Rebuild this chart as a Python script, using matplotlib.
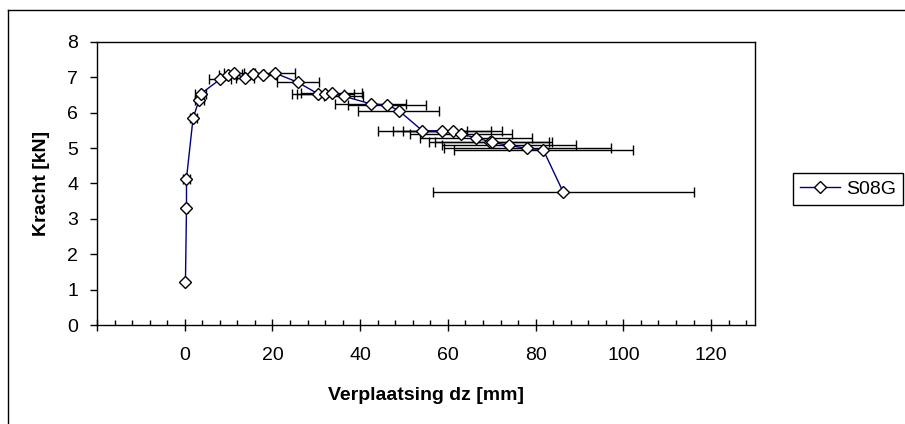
import matplotlib
matplotlib.use("Agg")
import matplotlib.pyplot as plt
from matplotlib.lines import Line2D
from matplotlib.ticker import MultipleLocator, FuncFormatter

plt.rcParams['font.family'] = ['Liberation Sans', 'DejaVu Sans']

# Data: displacement dz [mm], force [kN], x error [mm]
series_name = "S08G"
dz = [0.16, 0.4, 0.4, 1.9, 3.3, 3.6, 8.0, 9.9, 11.2, 13.7, 15.6, 17.9, 20.6,
      25.8, 30.3, 32.0, 33.5, 36.2, 42.4, 46.2, 48.8, 54.2, 58.7, 61.1, 62.9,
      66.4, 69.7, 70.1, 73.9, 78.1, 81.7, 86.3]
kracht = [1.21, 3.31, 4.14, 5.85, 6.37, 6.53, 6.94, 7.07, 7.12, 6.98, 7.10,
          7.08, 7.12, 6.86, 6.54, 6.54, 6.57, 6.47, 6.25, 6.22, 6.06, 5.49,
          5.49, 5.49, 5.40, 5.29, 5.18, 5.16, 5.08, 4.99, 4.96, 3.75]
dz_err = [0.0, 0.3, 0.8, 0.8, 1.0, 1.2, 2.5, 2.0, 2.2, 2.0, 2.5, 3.0, 4.5,
          4.8, 5.9, 6.5, 6.9, 4.4, 8.1, 8.9, 9.2, 10.2, 11.2, 11.3, 11.6,
          12.8, 14.1, 13.0, 15.2, 19.1, 20.4, 29.8]

fs = 14  # text size used throughout

W, H = 905, 424
fig = plt.figure(figsize=(W / 100, H / 100), dpi=100)
ax = fig.add_axes([97 / W, 1 - 325 / H, 658 / W, 283 / H])

# error bars first, line and diamonds on top
ax.errorbar(dz, kracht, xerr=dz_err, fmt='none', ecolor='black',
            elinewidth=1, capsize=3.5, capthick=1, zorder=2)
ax.plot(dz, kracht, color='#000080', linewidth=1, marker='D', markersize=6,
        markerfacecolor='white', markeredgecolor='black', markeredgewidth=1,
        label=series_name, zorder=3)

ax.set_xlim(-20, 130)
ax.set_ylim(0, 8)
ax.xaxis.set_major_locator(MultipleLocator(20))
ax.xaxis.set_minor_locator(MultipleLocator(4))
ax.yaxis.set_major_locator(MultipleLocator(1))
ax.xaxis.set_major_formatter(FuncFormatter(lambda v, p: "%d" % v if v >= 0 else ""))

ax.tick_params(axis='x', which='major', direction='inout', length=8.4, width=1,
               pad=12, labelsize=fs)
ax.tick_params(axis='x', which='minor', direction='in', length=3.6, width=1)
ax.tick_params(axis='y', which='major', direction='out', length=5, width=1,
               pad=8.5, labelsize=fs)
for s in ax.spines.values():
    s.set_linewidth(1)
    s.set_color('black')

ax.set_xlabel("Verplaatsing dz [mm]", fontsize=fs, fontweight='bold')
ax.set_ylabel("Kracht [kN]", fontsize=fs, fontweight='bold')
ax.xaxis.set_label_coords(0.5, -0.22)
ax.yaxis.set_label_coords(-0.071, 0.5)

fig.legend(loc='center left', bbox_to_anchor=(793 / W, 1 - 189 / H),
           fontsize=fs, frameon=True, fancybox=False, edgecolor='black',
           framealpha=1, borderaxespad=0, borderpad=0.35,
           handlelength=2.05, handletextpad=0.35)
fig.legends[0].get_frame().set_linewidth(1)

# outer chart border (only left and top are inside the picture)
fig.add_artist(Line2D([8 / W, 8 / W], [0, 1 - 10 / H], color='black', lw=1))
fig.add_artist(Line2D([8 / W, 1], [1 - 10 / H, 1 - 10 / H], color='black', lw=1))

fig.savefig("out.png", dpi=100)
